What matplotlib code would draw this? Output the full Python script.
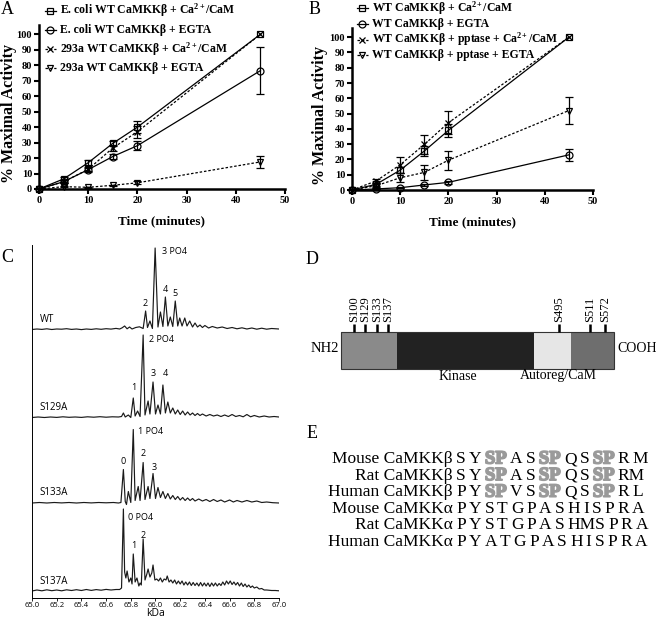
import numpy as np
import matplotlib
matplotlib.use('Agg')
import matplotlib.pyplot as plt
import matplotlib.patheffects as pe
from matplotlib.patches import Rectangle

plt.rcParams['font.family'] = ['Liberation Serif', 'DejaVu Serif']
plt.rcParams['mathtext.fontset'] = 'custom'
plt.rcParams['mathtext.rm'] = 'Liberation Serif'
plt.rcParams['mathtext.bf'] = 'Liberation Serif:bold'
plt.rcParams['mathtext.it'] = 'Liberation Serif:italic'

W, H = 656, 618  # figure size in pixels

# ---------------- data: panels A and B (time course) ----------------
time_min = [0, 5, 10, 15, 20, 45]

a_labels = [r'E. coli WT CaMKKβ + Ca$^{\mathbf{2+}}$/CaM',
            'E. coli WT CaMKKβ + EGTA',
            r'293a WT CaMKKβ + Ca$^{\mathbf{2+}}$/CaM',
            '293a WT CaMKKβ + EGTA']
a_ecoli_ca = [0, 6.5, 17, 29.5, 40, 100]
a_ecoli_egta = [0, 4.7, 12.5, 21, 28, 76.5]
a_293_ca = [0, 4.7, 12.7, 26.5, 37, 100]
a_293_egta = [0, 1.5, 1.1, 2.4, 4, 17.5]
a_ecoli_ca_err = [0, 1, 1.5, 1.5, 4, 0]
a_ecoli_egta_err = [0, 1, 1, 1.5, 3, 15]
a_293_ca_err = [0, 1, 1.5, 2, 4, 0]
a_293_egta_err = [0, 0.5, 0.5, 0.5, 1, 4]

b_labels = [r'WT CaMKKβ + Ca$^{\mathbf{2+}}$/CaM',
            'WT CaMKKβ + EGTA',
            r'WT CaMKKβ + pptase + Ca$^{\mathbf{2+}}$/CaM',
            'WT CaMKKβ + pptase + EGTA']
b_wt_ca = [0, 3.7, 13, 25.5, 39, 100]
b_wt_egta = [0, 0.7, 1.5, 3.3, 5, 23]
b_pp_ca = [0, 5.9, 16.5, 29.8, 44, 100]
b_pp_egta = [0, 2.8, 8, 11.5, 19.5, 52]
b_wt_ca_err = [0, 1, 2, 3, 4, 0]
b_wt_egta_err = [0, 0.3, 0.5, 0.5, 1, 3.7]
b_pp_ca_err = [0, 1, 5.4, 6.3, 7.6, 0]
b_pp_egta_err = [0, 1, 3, 4.7, 6.3, 9]

# ---------------- data: panel C (mass spectra, kDa vs relative height) ----------------
wt_trace = [(65.00, 0.5), (65.04, 1.0), (65.08, 0.6), (65.12, 1.2), (65.16, 0.5), (65.20, 1.0),
            (65.24, 0.8), (65.28, 1.3), (65.32, 0.6), (65.36, 1.0), (65.40, 0.4), (65.44, 1.0),
            (65.48, 0.6), (65.52, 1.2), (65.56, 0.7), (65.60, 1.3), (65.64, 0.9), (65.68, 1.6),
            (65.71, 1.0), (65.73, 2.2), (65.75, 4.0), (65.77, 1.2), (65.79, 3.0), (65.81, 1.0),
            (65.84, 2.5), (65.87, 3.2), (65.90, 1.5), (65.92, 19), (65.935, 2.5), (65.955, 9),
            (65.975, 1.5), (65.997, 82), (66.02, 3), (66.04, 18), (66.06, 3.5), (66.08, 33),
            (66.10, 4), (66.12, 13), (66.14, 3.5), (66.16, 29), (66.18, 4), (66.196, 12),
            (66.215, 4), (66.237, 12), (66.255, 4), (66.277, 9), (66.30, 3), (66.32, 7),
            (66.34, 3), (66.36, 5), (66.38, 2.5), (66.40, 4.5), (66.43, 2), (66.46, 3.5),
            (66.50, 2), (66.54, 3), (66.58, 1.5), (66.62, 2.5), (66.66, 1.2), (66.70, 2.2),
            (66.74, 1), (66.78, 2), (66.82, 0.8), (66.86, 1.8), (66.90, 0.8), (66.94, 1.5),
            (67.00, 1.0)]
s129a_trace = [(65.00, 0.5), (65.05, 1.0), (65.10, 0.5), (65.15, 1.0), (65.20, 0.6), (65.25, 1.2),
               (65.30, 0.7), (65.35, 1.0), (65.40, 0.6), (65.45, 1.2), (65.50, 0.8), (65.55, 1.3),
               (65.60, 0.8), (65.65, 1.2), (65.70, 1.0), (65.725, 1.5), (65.74, 5), (65.755, 1),
               (65.78, 3), (65.80, 0.5), (65.82, 20), (65.835, 2), (65.855, 7), (65.875, 1.5),
               (65.90, 83), (65.915, 3), (65.94, 17), (65.955, 4), (65.98, 36), (66.00, 4),
               (66.02, 13), (66.04, 4), (66.06, 33), (66.08, 5), (66.10, 16), (66.12, 5),
               (66.14, 10), (66.16, 4), (66.18, 8), (66.20, 3.5), (66.22, 7), (66.24, 3),
               (66.26, 6), (66.28, 3), (66.30, 5), (66.32, 2.5), (66.34, 4.5), (66.36, 2.5),
               (66.38, 4), (66.41, 2), (66.44, 3.5), (66.47, 2), (66.50, 3), (66.53, 1.5),
               (66.56, 3), (66.59, 1.5), (66.62, 3.5), (66.65, 1.5), (66.68, 2.5), (66.71, 1.2),
               (66.74, 3.5), (66.77, 1.2), (66.80, 2.5), (66.84, 1), (66.88, 2), (66.92, 1),
               (66.96, 1.5), (67.00, 1.0)]
s133a_trace = [(65.00, 0.5), (65.06, 1.0), (65.12, 0.5), (65.18, 1.0), (65.24, 0.6), (65.30, 1.0),
               (65.36, 0.5), (65.42, 1.0), (65.48, 0.6), (65.54, 1.0), (65.60, 0.7), (65.66, 1.0),
               (65.70, 0.5), (65.72, 1), (65.74, 34), (65.755, 2), (65.765, -1), (65.78, 12),
               (65.80, 1), (65.82, 74), (65.835, 3), (65.86, 17), (65.875, 3), (65.90, 41),
               (65.915, 4), (65.94, 17), (65.955, 5), (65.98, 30), (66.00, 5), (66.02, 16),
               (66.04, 6), (66.06, 12), (66.08, 5), (66.10, 10), (66.12, 4.5), (66.14, 8),
               (66.16, 4), (66.18, 7), (66.20, 3.5), (66.22, 6), (66.24, 3), (66.26, 5.5),
               (66.28, 3), (66.30, 5), (66.32, 2.5), (66.35, 4.5), (66.38, 2.5), (66.41, 4),
               (66.44, 2), (66.47, 4), (66.50, 2), (66.53, 3.5), (66.56, 1.5), (66.60, 3.5),
               (66.63, 1.5), (66.66, 3), (66.70, 1.5), (66.74, 3), (66.78, 1.5), (66.82, 2.5),
               (66.86, 1), (66.90, 1.5), (66.95, 0.8), (67.00, 0.5)]
s137a_trace = [(65.00, 1.0), (65.04, 2.0), (65.08, 1.2), (65.12, 2.2), (65.16, 1.3), (65.20, 2.0),
               (65.24, 1.2), (65.28, 2.2), (65.32, 1.5), (65.36, 2.3), (65.40, 1.5), (65.44, 2.5),
               (65.48, 1.6), (65.52, 2.4), (65.56, 1.8), (65.60, 2.6), (65.64, 2.0), (65.68, 2.5),
               (65.71, 2.5), (65.725, 4), (65.74, 83), (65.75, 20), (65.76, 14), (65.77, 21),
               (65.785, 10), (65.80, 14), (65.81, 8), (65.82, 38), (65.835, 10), (65.85, 14),
               (65.865, 6), (65.875, 9), (65.885, 7), (65.90, 53), (65.915, 12), (65.93, 18),
               (65.94, 23), (65.955, 15), (65.97, 19), (65.98, 27), (65.995, 12), (66.01, 13),
               (66.025, 11), (66.04, 14), (66.055, 10), (66.07, 13), (66.085, 12), (66.095, 16),
               (66.11, 10), (66.125, 12), (66.14, 9), (66.155, 12), (66.17, 8), (66.185, 11),
               (66.20, 8), (66.215, 11), (66.23, 7), (66.245, 10), (66.26, 7), (66.275, 10),
               (66.29, 6.5), (66.305, 9.5), (66.32, 6.5), (66.335, 9), (66.35, 6), (66.365, 9.5),
               (66.38, 6), (66.395, 9), (66.41, 6), (66.425, 9), (66.44, 5.5), (66.455, 9),
               (66.47, 6), (66.485, 9), (66.50, 6), (66.515, 8.5), (66.53, 6.5), (66.545, 10),
               (66.56, 7), (66.575, 11), (66.59, 8), (66.605, 11), (66.62, 7.5), (66.635, 10),
               (66.65, 7), (66.665, 9.5), (66.68, 6), (66.695, 9), (66.71, 5.5), (66.725, 8),
               (66.74, 5), (66.755, 7), (66.77, 4.5), (66.785, 6), (66.80, 4), (66.82, 5),
               (66.84, 3), (66.86, 3.5), (66.88, 2), (66.90, 2), (66.94, 1.5), (66.97, 1.5),
               (67.00, 1.2)]
trace_names = ['WT', 'S129A', 'S133A', 'S137A']
peak_labels = [
    [('3 PO4', 66.05, 348, 'left'), ('2', 65.92, 297, 'center'), ('4', 66.08, 310, 'center'), ('5', 66.16, 306, 'center')],
    [('2 PO4', 65.946, 260, 'left'), ('1', 65.82, 212, 'center'), ('3', 65.98, 226, 'center'), ('4', 66.08, 226, 'center')],
    [('1 PO4', 65.857, 169, 'left'), ('0', 65.74, 139, 'center'), ('2', 65.90, 146, 'center'), ('3', 65.986, 133, 'center')],
    [('0 PO4', 65.78, 83, 'left'), ('1', 65.82, 55, 'center'), ('2', 65.90, 65, 'center')],
]

# ---------------- data: panel D (domain schematic, % along the bar) ----------------
domain_bounds = [0, 20.5, 70.7, 84.2, 100]
domain_colors = ['#8a8a8a', '#222222', '#e6e6e6', '#6e6e6e']
site_names = ['S100', 'S129', 'S133', 'S137', 'S495', 'S511', 'S572']
site_pos = [4.8, 8.8, 13.2, 17.2, 79.9, 91.2, 96.7]

# ---------------- data: panel E (sequence alignment) ----------------
seq_names = ['Mouse CaMKKβ', 'Rat CaMKKβ', 'Human CaMKKβ',
             'Mouse CaMKKα', 'Rat CaMKKα', 'Human CaMKKα']
seq_rows = ['S Y SP A S SP Q S SP R M',
            'S Y SP A S SP Q S SP RM',
            'P Y SP V S SP Q S SP R L',
            'P Y S T G P A S H I S P R A',
            'P Y S T G P A S HMS P R A',
            'P Y A T G P A S H I S P R A']


def box(l, t, r, b):
    return [l / W, 1 - b / H, (r - l) / W, (b - t) / H]


fig = plt.figure(figsize=(W / 100, H / 100), dpi=100)

line_styles = [('s', '-'), ('o', '-'), ('x', (0, (2, 1.5))), ('v', (0, (2, 1.5)))]


def activity_panel(rect, series, errors, ylab_x):
    ax = fig.add_axes(rect)
    for y, e, (m, ls) in zip(series, errors, line_styles):
        e = np.array(e, dtype=float)
        keep = e > 0
        ax.errorbar(np.array(time_min)[keep], np.array(y)[keep], yerr=e[keep], fmt='none',
                    ecolor='black', elinewidth=0.9, capsize=3, capthick=0.9, zorder=2)
        ax.plot(time_min, y, color='black', ls=ls, lw=0.9, marker=m, ms=5,
                mfc='none', mec='black', mew=0.9, zorder=3, clip_on=False)
    ax.set_xlim(0, 50)
    ax.set_ylim(0, 106)
    ax.set_xticks(range(0, 51, 10))
    ax.set_yticks(range(0, 101, 10))
    for s in ['top', 'right']:
        ax.spines[s].set_visible(False)
    for s in ['left', 'bottom']:
        ax.spines[s].set_linewidth(1.8)
    ax.tick_params(direction='out', length=3.5, width=1.5, labelsize=7.5, pad=1.5)
    for lab in ax.get_xticklabels() + ax.get_yticklabels():
        lab.set_fontweight('bold')
    ax.set_ylabel('% Maximal Activity', fontsize=11.5, fontweight='bold')
    ax.yaxis.set_label_coords(ylab_x, 0.46)
    ax.set_xlabel('Time (minutes)', fontsize=9.5, fontweight='bold')
    ax.xaxis.set_label_coords(0.5, -0.16)
    return ax


activity_panel(box(39, 25, 285, 189),
               [a_ecoli_ca, a_ecoli_egta, a_293_ca, a_293_egta],
               [a_ecoli_ca_err, a_ecoli_egta_err, a_293_ca_err, a_293_egta_err], -0.09)
activity_panel(box(352, 28, 593, 190),
               [b_wt_ca, b_wt_egta, b_pp_ca, b_pp_egta],
               [b_wt_ca_err, b_wt_egta_err, b_pp_ca_err, b_pp_egta_err], -0.10)

# ---------------- panel C ----------------
axc = fig.add_axes(box(32, 245, 279, 598))
offsets = [268, 180, 94.5, 6]
for tr, off, name, labs in zip([wt_trace, s129a_trace, s133a_trace, s137a_trace],
                               offsets, trace_names, peak_labels):
    xs = [p[0] for p in tr]
    ys = [p[1] + off for p in tr]
    axc.plot(xs, ys, color='#1a1a1a', lw=0.85)
    axc.text(65.06, off + 11, name, fontsize=7, family='Open Sans', va='center', ha='left')
    for txt, x, y, ha in labs:
        axc.text(x, y - 2, txt, fontsize=6.5, family='Open Sans', va='center', ha=ha)
axc.set_xlim(65.0, 67.0)
axc.set_ylim(0, 353)
axc.set_xticks(np.arange(65.0, 67.01, 0.2))
axc.set_xticklabels([f'{v:.1f}' for v in np.arange(65.0, 67.01, 0.2)])
axc.set_yticks([])
for s in ['top', 'right']:
    axc.spines[s].set_visible(False)
for s in ['left', 'bottom']:
    axc.spines[s].set_linewidth(0.7)
axc.tick_params(axis='x', length=2, width=0.6, labelsize=5.5, pad=1)
for lab in axc.get_xticklabels():
    lab.set_family('Open Sans')
axc.set_xlabel('kDa', fontsize=7.5, family='Open Sans', labelpad=-1)

# ---------------- overlay in pixel coordinates: letters, D, E ----------------
ov = fig.add_axes([0, 0, 1, 1])
ov.set_xlim(0, W)
ov.set_ylim(H, 0)
ov.axis('off')

for letter, x, y in [('A', 7, 9), ('B', 315, 9), ('C', 7, 258), ('D', 312, 259), ('E', 312, 433)]:
    ov.text(x, y, letter, fontsize=13, ha='center', va='center')


# legends of A and B
def manual_legend(x_mark, y0, dy, labels):
    for i, (lab, (m, ls)) in enumerate(zip(labels, line_styles)):
        y = y0 + i * dy
        ov.plot([x_mark - 5.5, x_mark + 5.5], [y, y], color='black', ls=ls, lw=0.9)
        ov.plot([x_mark], [y], marker=m, ms=5, mfc='none', mec='black', mew=0.9, color='black')
        ov.text(x_mark + 10, y, lab, fontsize=8.5, fontweight='bold', va='center', ha='left')


manual_legend(50, 10.5, 19.1, a_labels)
manual_legend(362, 8, 15.8, b_labels)

# panel D
bx0, bx1, by0, by1 = 341, 614, 332, 369
sx = (bx1 - bx0) / 100.0
for lo, hi, c in zip(domain_bounds[:-1], domain_bounds[1:], domain_colors):
    ov.add_patch(Rectangle((bx0 + lo * sx, by0), (hi - lo) * sx, by1 - by0,
                           facecolor=c, edgecolor='none'))
ov.add_patch(Rectangle((bx0, by0), bx1 - bx0, by1 - by0, facecolor='none',
                       edgecolor='#333333', lw=0.8))
for name, p in zip(site_names, site_pos):
    x = bx0 + p * sx
    ov.plot([x, x], [by0 - 8, by0], color='black', lw=1.8, solid_capstyle='butt')
    ov.text(x, by0 - 10, name, rotation=90, fontsize=9, ha='center', va='bottom')
ov.text(bx0 - 2, 349, 'NH2', fontsize=10.5, ha='right', va='center')
ov.text(617, 349, 'COOH', fontsize=10, ha='left', va='center')
ov.text(458, 376, 'Kinase', fontsize=10, ha='center', va='center')
ov.text(558, 376, 'Autoreg/CaM', fontsize=10, ha='center', va='center')

# panel E
rend = fig.canvas.get_renderer()
gap = 3.0
for i, (name, row) in enumerate(zip(seq_names, seq_rows)):
    y = 459 + i * 16.6
    ov.text(453, y, name, fontsize=12.5, ha='right', va='center')
    x = 456
    for grp in row.split(' '):
        hl = grp == 'SP'
        if hl:
            t = ov.text(x + 0.5, y, grp, fontsize=13.5, ha='left', va='center',
                        fontweight='bold', color='#9a9a9a',
                        path_effects=[pe.withStroke(linewidth=1.2, foreground='#9a9a9a')])
            x += t.get_window_extent(renderer=rend).width + gap + 1
        else:
            t = ov.text(x, y, grp, fontsize=12.5, ha='left', va='center')
            x += t.get_window_extent(renderer=rend).width + gap

fig.savefig('out.png', dpi=100)
